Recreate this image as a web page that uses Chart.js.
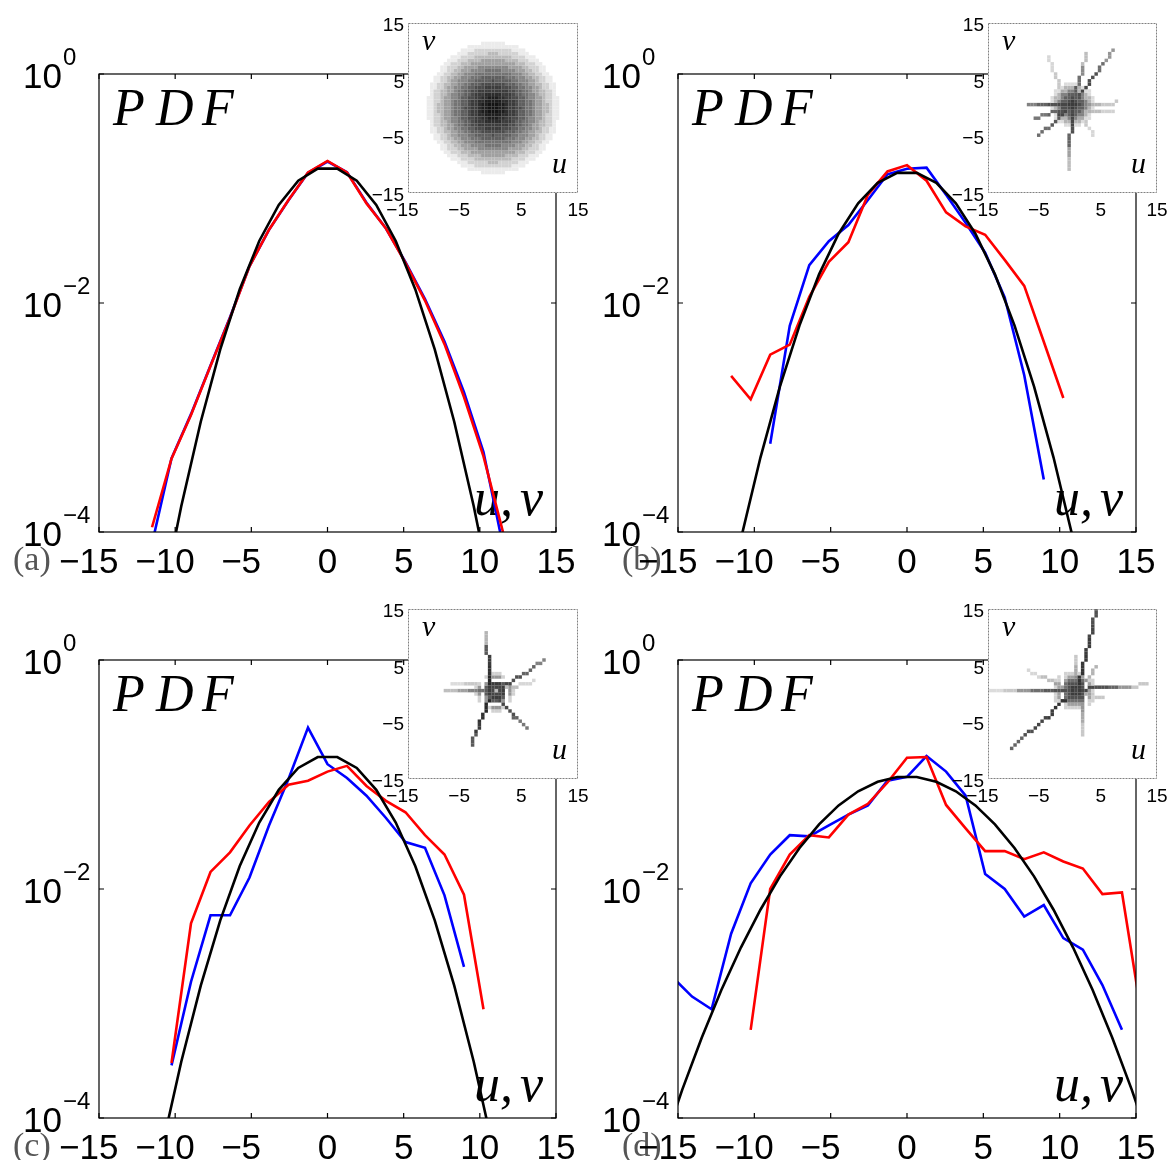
<!DOCTYPE html>
<html>
<head>
<meta charset="utf-8">
<script src="https://cdn.jsdelivr.net/npm/chart.js@4.4.1/dist/chart.umd.min.js"></script>
<style>
  body { margin: 0; background: #fff; }
  #fig { position: relative; width: 1172px; height: 1160px; overflow: hidden; background: #fff; }
  canvas { position: absolute; }
</style>
</head>
<body>
<div id="fig">
  <canvas id="pa" width="586" height="580" style="left:0;top:0"></canvas>
  <canvas id="pb" width="586" height="580" style="left:586px;top:0"></canvas>
  <canvas id="pc" width="586" height="580" style="left:0;top:580px"></canvas>
  <canvas id="pd" width="586" height="580" style="left:586px;top:580px"></canvas>
  <canvas id="ia" width="233" height="214" style="left:363px;top:11px"></canvas>
  <canvas id="ib" width="232" height="214" style="left:943px;top:11px"></canvas>
  <canvas id="ic" width="233" height="214" style="left:363px;top:597px"></canvas>
  <canvas id="id" width="232" height="214" style="left:943px;top:597px"></canvas>
</div>
<script>
// velocity bins (u, v) of the measured PDFs
const binsA = [-11.52, -10.24, -8.96, -7.68, -6.40, -5.12, -3.84, -2.56, -1.28, 0, 1.28, 2.56, 3.84, 5.12, 6.40, 7.68, 8.96, 10.24, 11.52];
const redA  = [1.10e-4, 4.37e-4, 1.05e-3, 2.82e-3, 7.41e-3, 0.0209, 0.0437, 0.0794, 0.138, 0.174, 0.138, 0.0741, 0.0447, 0.0224, 0.0105, 0.00437, 0.00151, 4.57e-4, 1.0e-4];
const blueA = [7.9e-5, 4.4e-4, 1.07e-3, 2.85e-3, 7.5e-3, 0.021, 0.0435, 0.079, 0.137, 0.172, 0.139, 0.075, 0.0447, 0.0228, 0.0108, 0.0046, 0.00166, 5.0e-4, 7.6e-5];

const redBx = [-11.52, -10.24, -8.96, -7.68, -6.40, -5.12, -3.84, -2.56, -1.28, 0, 1.28, 2.56, 3.84, 5.12, 6.40, 7.68, 8.96, 10.24];
const redB  = [2.31e-3, 1.44e-3, 3.54e-3, 4.33e-3, 0.0113, 0.0229, 0.0340, 0.0881, 0.141, 0.160, 0.117, 0.0619, 0.0467, 0.0395, 0.0238, 0.0141, 4.59e-3, 1.48e-3];
const blueBx = [-8.96, -7.68, -6.40, -5.12, -3.84, -2.56, -1.28, 0, 1.28, 2.56, 3.84, 5.12, 6.40, 7.68, 8.96];
const blueB  = [5.9e-4, 6.31e-3, 0.0214, 0.0347, 0.0479, 0.0794, 0.133, 0.149, 0.152, 0.0881, 0.0501, 0.0275, 0.0112, 2.34e-3, 2.88e-4];

const redCx = [-10.24, -8.96, -7.68, -6.40, -5.12, -3.84, -2.56, -1.28, 0, 1.28, 2.56, 3.84, 5.12, 6.40, 7.68, 8.96, 10.24];
const redC  = [3.02e-4, 5.01e-3, 0.0141, 0.0209, 0.0359, 0.0575, 0.0813, 0.0881, 0.106, 0.119, 0.0794, 0.0589, 0.0468, 0.0295, 0.0200, 8.91e-3, 8.91e-4];
const blueCx = [-10.24, -8.96, -7.68, -6.40, -5.12, -3.84, -2.56, -1.28, 0, 1.28, 2.56, 3.84, 5.12, 6.40, 7.68, 8.96];
const blueC  = [2.88e-4, 1.55e-3, 5.89e-3, 5.89e-3, 0.0126, 0.0359, 0.0912, 0.257, 0.123, 0.0933, 0.0653, 0.0417, 0.0257, 0.0229, 8.81e-3, 2.09e-3];

const redDx = [-10.24, -8.96, -7.68, -6.40, -5.12, -3.84, -2.56, -1.28, 0, 1.28, 2.56, 3.84, 5.12, 6.40, 7.68, 8.96, 10.24, 11.52, 12.80, 14.08, 15.36];
const redD  = [5.89e-4, 0.0100, 0.0200, 0.0295, 0.0282, 0.0447, 0.0555, 0.0851, 0.140, 0.142, 0.0542, 0.0339, 0.0214, 0.0214, 0.0182, 0.0209, 0.0174, 0.0151, 9.02e-3, 9.33e-3, 7.94e-4];
const blueDx = [-15.36, -14.08, -12.80, -11.52, -10.24, -8.96, -7.68, -6.40, -5.12, -3.84, -2.56, -1.28, 0, 1.28, 2.56, 3.84, 5.12, 6.40, 7.68, 8.96, 10.24, 11.52, 12.80, 14.08];
const blueD  = [1.70e-3, 1.15e-3, 8.91e-4, 4.07e-3, 0.0112, 0.0200, 0.0295, 0.0288, 0.0359, 0.0447, 0.0537, 0.0881, 0.0955, 0.145, 0.106, 0.0653, 0.0135, 0.0100, 5.75e-3, 7.24e-3, 3.72e-3, 2.95e-3, 1.45e-3, 5.89e-4];

// gaussian reference curves
const fitX = [-10.88, -9.60, -8.32, -7.04, -5.76, -4.48, -3.20, -1.92, -0.64, 0.64, 1.92, 3.20, 4.48, 5.76, 7.04, 8.32, 9.60, 10.88];
const fitA = [2.42e-5, 1.68e-4, 9.18e-4, 3.93e-3, 0.0132, 0.0348, 0.0719, 0.117, 0.149, 0.149, 0.117, 0.0719, 0.0348, 0.0132, 3.93e-3, 9.18e-4, 1.68e-4, 2.42e-5];
const fitB = [8.7e-5, 4.47e-4, 1.87e-3, 6.38e-3, 0.0178, 0.0403, 0.0743, 0.112, 0.137, 0.137, 0.112, 0.0743, 0.0403, 0.0178, 6.38e-3, 1.87e-3, 4.47e-4, 8.7e-5];
const fitC = [5.38e-5, 3.10e-4, 1.43e-3, 5.32e-3, 0.0159, 0.0381, 0.0735, 0.114, 0.142, 0.142, 0.114, 0.0735, 0.0381, 0.0159, 5.32e-3, 1.43e-3, 3.10e-4, 5.38e-5];
const fitDx = [-16.00, -14.72, -13.44, -12.16, -10.88, -9.60, -8.32, -7.04, -5.76, -4.48, -3.20, -1.92, -0.64, 0.64, 1.92, 3.20, 4.48, 5.76, 7.04, 8.32, 9.60, 10.88, 12.16, 13.44, 14.72, 16.00];
const fitD = [5.6e-5, 1.77e-4, 5.04e-4, 1.31e-3, 3.08e-3, 6.59e-3, 0.0129, 0.0228, 0.0367, 0.0537, 0.0714, 0.0864, 0.0951, 0.0951, 0.0864, 0.0714, 0.0537, 0.0367, 0.0228, 0.0129, 6.59e-3, 3.08e-3, 1.31e-3, 5.04e-4, 1.77e-4, 5.6e-5];

const xTicks = [-15, -10, -5, 0, 5, 10, 15];
const yTicks = [1, 1e-2, 1e-4];
const yExp = ['0', '\u22122', '\u22124'];
const insetTicks = [-15, -5, 5, 15];

// joint (u, v) histograms: gray level per ring / along each arm (0 = black)
const ringsA = [20, 30, 45, 60, 75, 95, 115, 135, 160, 185, 210, 235];
const coreB = [0, 0.5, 4.0, [60, 75, 95, 130, 180, 220]];
const armsB = [
  [0.5, 1, 7.2, 9.9, [80, 70, 80, 110, 150]],
  [0.3, 2, 2.6, 9.3, [90, 110, 140, 190]],
  [-1, 0.5, -8.1, 0.5, [70, 80, 100, 130]],
  [-1, 0, -6.4, -1.8, [80, 100, 120]],
  [-1, -0.5, -6.1, -4.8, [70, 90, 110]],
  [-0.2, -1, -0.45, -10.9, [70, 80, 100, 160, 190]],
  [1, 0.5, 7.8, 0.9, [150, 180, 200]],
  [1, 0, 7.2, -0.9, [160, 190, 210]],
  [-1, 1, -4.3, 8.8, [170, 200, 215]],
  [1, -1, 3.7, -4.8, [170, 200, 215]]
];
const coreC = [0.3, 0.3, 3.2, [185, 70, 60, 90, 150, 210]];
const armsC = [
  [-0.5, 1.5, -1.2, 11.0, [40, 50, 60, 90, 180]],
  [1.2, 1.0, 9.2, 6.0, [70, 80, 100, 130]],
  [-1.5, 0.5, -8.5, 0.7, [110, 130, 160, 190]],
  [-0.8, -1.5, -3.8, -9.0, [40, 50, 60, 90]],
  [1.2, -1.2, 6.0, -6.1, [70, 80, 100, 120]],
  [-3, 1.5, -7.3, 2.0, [200, 220]],
  [2, 1, 7.1, 2.1, [190, 215]]
];
const coreD = [0.3, 0.5, 3.5, [70, 60, 80, 110, 160, 210]];
const armsD = [
  [1.2, 2, 4.3, 14.9, [50, 55, 60, 70, 80]],
  [-1, 0.5, -14.9, 0.6, [80, 90, 110, 150, 200, 220]],
  [1, 0.8, 13.4, 1.6, [70, 80, 100, 150, 200]],
  [-1, -1, -10.8, -9.3, [50, 60, 70, 80, 100]],
  [1.5, -1.5, 1.9, -7.2, [150, 170, 200]],
  [-1, 1.2, -8.1, 4.2, [160, 190, 215]],
  [0.5, 2, 0.74, 6.6, [140, 170, 200]],
  [1.5, 1.5, 4.3, 4.8, [150, 180]],
  [1.5, 0, 5.5, -0.5, [170, 200]]
];

const CELL = 0.6;

function addCell(map, u, v, g) {
  const i = Math.round(u / CELL), j = Math.round(v / CELL);
  const k = i + ',' + j;
  if (!map.has(k) || map.get(k)[2] > g) map.set(k, [i * CELL, j * CELL, g]);
}

function coreCells(map, core) {
  const [cu, cv, radius, shades] = core;
  const n = Math.ceil(radius / CELL);
  for (let i = -n; i <= n; i++) {
    for (let j = -n; j <= n; j++) {
      const r = Math.hypot(i, j) * CELL;
      if (r > radius) continue;
      const g = shades[Math.min(shades.length - 1, Math.floor(r / radius * shades.length))];
      addCell(map, cu + i * CELL, cv + j * CELL, g);
    }
  }
}

function armCells(map, arm) {
  const [u0, v0, u1, v1, shades] = arm;
  const steps = Math.ceil(Math.max(Math.abs(u1 - u0), Math.abs(v1 - v0)) / CELL);
  for (let s = 0; s <= steps; s++) {
    const f = s / steps;
    const g = shades[Math.min(shades.length - 1, Math.floor(f * shades.length))];
    addCell(map, u0 + (u1 - u0) * f, v0 + (v1 - v0) * f, g);
  }
}

function histCells(core, arms) {
  const map = new Map();
  coreCells(map, core);
  arms.forEach(a => armCells(map, a));
  return Array.from(map.values());
}

// draws "-15" etc with the digits centred on the tick
function tickText(ctx, s, x, y) {
  const digits = s.replace('\u2212', '');
  ctx.textAlign = 'right';
  ctx.fillText(s, x + ctx.measureText(digits).width / 2, y);
}

function label(v) {
  return v < 0 ? '\u2212' + Math.abs(v) : String(v);
}

const axesBox = {
  id: 'axesBox',
  beforeDatasetsDraw(chart) {
    const a = chart.chartArea, ctx = chart.ctx;
    ctx.save();
    ctx.fillStyle = '#000';
    ctx.textAlign = 'left';
    ctx.textBaseline = 'alphabetic';
    ctx.font = 'italic 52px "Liberation Serif"';
    ctx.fillText('P', a.left + 14, a.top + 51);
    ctx.fillText('D', a.left + 57, a.top + 51);
    ctx.fillText('F', a.left + 103, a.top + 51);
    ctx.fillText('u,', a.right - 82, a.bottom - 17);
    ctx.fillText('v', a.right - 36, a.bottom - 17);
    ctx.restore();
  },
  afterDatasetsDraw(chart, args, opts) {
    const a = chart.chartArea, ctx = chart.ctx;
    const sx = chart.scales.x, sy = chart.scales.y;
    ctx.save();
    ctx.strokeStyle = '#000';
    ctx.lineWidth = 1.2;
    ctx.strokeRect(a.left, a.top, a.right - a.left, a.bottom - a.top);
    ctx.beginPath();
    xTicks.forEach(v => {
      const px = sx.getPixelForValue(v);
      ctx.moveTo(px, a.bottom); ctx.lineTo(px, a.bottom - 5);
      ctx.moveTo(px, a.top); ctx.lineTo(px, a.top + 5);
    });
    yTicks.forEach(v => {
      const py = sy.getPixelForValue(v);
      ctx.moveTo(a.left, py); ctx.lineTo(a.left + 5, py);
      ctx.moveTo(a.right, py); ctx.lineTo(a.right - 5, py);
    });
    ctx.stroke();

    ctx.textBaseline = 'alphabetic';
    ctx.font = '34px "Liberation Serif"';
    ctx.fillStyle = '#555';
    ctx.textAlign = 'left';
    ctx.fillText(opts.letter, opts.letterX, a.bottom + 38);

    ctx.fillStyle = '#000';
    ctx.font = '35px "Liberation Sans"';
    xTicks.forEach(v => tickText(ctx, label(v), sx.getPixelForValue(v), a.bottom + 41));
    yTicks.forEach((v, i) => {
      const py = sy.getPixelForValue(v);
      ctx.textAlign = 'left';
      ctx.font = '35px "Liberation Sans"';
      ctx.fillText('10', a.left - 76, py + 13.5);
      ctx.font = '24px "Liberation Sans"';
      ctx.fillText(yExp[i], a.left - 36, py - 9);
    });
    ctx.restore();
  }
};

const insetBox = {
  id: 'insetBox',
  beforeDatasetsDraw(chart) {
    const a = chart.chartArea, ctx = chart.ctx;
    ctx.save();
    ctx.fillStyle = '#fff';
    ctx.fillRect(a.left, a.top, a.right - a.left, a.bottom - a.top);
    ctx.restore();
  },
  afterDatasetsDraw(chart) {
    const a = chart.chartArea, ctx = chart.ctx;
    const sx = chart.scales.x, sy = chart.scales.y;
    ctx.save();
    ctx.strokeStyle = '#808080';
    ctx.lineWidth = 1;
    ctx.setLineDash([2, 1]);
    ctx.strokeRect(a.left + 0.5, a.top + 0.5, a.right - a.left - 1, a.bottom - a.top - 1);
    ctx.setLineDash([]);
    ctx.fillStyle = '#000';
    ctx.font = '19px "Liberation Sans"';
    ctx.textBaseline = 'alphabetic';
    insetTicks.forEach(v => {
      ctx.textAlign = 'right';
      ctx.fillText(label(v), a.left - 4, sy.getPixelForValue(v) + 8);
      tickText(ctx, label(v), sx.getPixelForValue(v), a.bottom + 23);
    });
    ctx.font = 'italic 30px "Liberation Serif"';
    ctx.textAlign = 'left';
    ctx.fillText('v', a.left + 14, a.top + 27);
    ctx.fillText('u', a.right - 26, a.bottom - 20);
    ctx.restore();
  }
};

function pts(xs, ys) {
  return xs.map((x, i) => ({ x: x, y: ys[i] }));
}

function pdfChart(id, pad, letter, letterX, fx, fy, rx, ry, bx, by) {
  const line = (data, color) => ({ data: data, borderColor: color, borderWidth: 2.6, pointRadius: 0, tension: 0, clip: 0 });
  new Chart(document.getElementById(id), {
    type: 'line',
    data: {
      datasets: [
        line(pts(fx, fy), '#000000'),
        line(pts(rx, ry), '#ff0000'),
        line(pts(bx, by), '#0000ff')
      ]
    },
    options: {
      responsive: false,
      animation: false,
      layout: { padding: pad },
      plugins: {
        legend: { display: false },
        tooltip: { enabled: false },
        axesBox: { letter: letter, letterX: letterX }
      },
      scales: {
        x: { type: 'linear', display: false, min: -15, max: 15 },
        y: { type: 'logarithmic', display: false, min: 1e-4, max: 1 }
      }
    },
    plugins: [axesBox]
  });
}

function insetChart(id, cells) {
  new Chart(document.getElementById(id), {
    type: 'scatter',
    data: {
      datasets: [{
        data: cells.map(c => ({ x: c[0], y: c[1] })),
        backgroundColor: cells.map(c => `rgb(${c[2]},${c[2]},${c[2]})`),
        pointStyle: 'rect',
        pointRadius: 2.45,
        pointBorderWidth: 0,
        clip: 0
      }]
    },
    options: {
      responsive: false,
      animation: false,
      layout: { padding: { left: 45, top: 12, right: 18, bottom: 32 } },
      plugins: { legend: { display: false }, tooltip: { enabled: false } },
      scales: {
        x: { type: 'linear', display: false, min: -15, max: 15 },
        y: { type: 'linear', display: false, min: -15, max: 15 }
      }
    },
    plugins: [insetBox]
  });
}

pdfChart('pa', { left: 99, top: 74, right: 30, bottom: 48 }, '(a)', 13, fitX, fitA, binsA, redA, binsA, blueA);
pdfChart('pb', { left: 92, top: 74, right: 36, bottom: 48 }, '(b)', 36, fitX, fitB, redBx, redB, blueBx, blueB);
pdfChart('pc', { left: 99, top: 80, right: 30, bottom: 42 }, '(c)', 13, fitX, fitC, redCx, redC, blueCx, blueC);
pdfChart('pd', { left: 92, top: 80, right: 36, bottom: 42 }, '(d)', 36, fitDx, fitD, redDx, redD, blueDx, blueD);

insetChart('ia', histCells([0, 0, 11.6, ringsA], []));
insetChart('ib', histCells(coreB, armsB));
insetChart('ic', histCells(coreC, armsC));
insetChart('id', histCells(coreD, armsD));
</script>
</body>
</html>
